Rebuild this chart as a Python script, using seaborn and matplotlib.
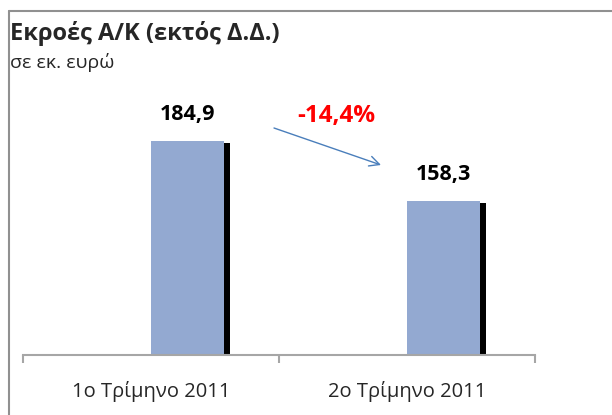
import matplotlib
matplotlib.use("Agg")
import matplotlib.pyplot as plt
import matplotlib.patheffects as pe
from matplotlib.lines import Line2D
import seaborn as sns
import pandas as pd
import numpy as np

categories = ["1ο Τρίμηνο 2011", "2ο Τρίμηνο 2011"]
values = [184.9, 158.3]
value_labels = ["184,9", "158,3"]
title = "Εκροές Α/Κ (εκτός Δ.Δ.)"
subtitle = "σε εκ. ευρώ"

sns.set_theme(style="white")
plt.rcParams['font.family'] = ['Open Sans', 'DejaVu Sans']

# Excel clustered layout: an empty first series, real second series
df = pd.DataFrame({
    "cat": categories * 2,
    "series": ["empty"] * 2 + ["flows"] * 2,
    "value": [np.nan, np.nan] + values,
})

fig = plt.figure(figsize=(6.12, 4.15), dpi=100)
ymin, ymax = 90, 200
ax = fig.add_axes([23/612, (415-355)/415, 512/612, (ymax - ymin) * 2.2556 / 415])

bar_color = "#93A9D1"
sns.barplot(data=df, x="cat", y="value", hue="series", hue_order=["empty", "flows"],
            order=categories, palette={"empty": bar_color, "flows": bar_color},
            width=0.57, dodge=True, legend=False, ax=ax, errorbar=None,
            linewidth=0, saturation=1)

for p in ax.patches:
    p.set_path_effects([pe.SimplePatchShadow(offset=(4.7, -1.7), shadow_rgbFace="black", alpha=1.0),
                        pe.Normal()])

ax.set_ylim(ymin, ymax)
ax.set_xlim(-0.5, 1.5)

# value labels
bars = [p for p in ax.patches if not np.isnan(p.get_height()) and p.get_height() > 0]
bars.sort(key=lambda p: p.get_x())
for p, lab in zip(bars, value_labels):
    ax.annotate(lab, (p.get_x() + p.get_width()/2, p.get_height()),
                xytext=(0, 19), textcoords="offset points", ha="center", va="center",
                fontsize=15.5, fontweight="bold", color="black", annotation_clip=False)

# change annotation
change = (values[1] / values[0] - 1) * 100
change_txt = f"{change:.1f}%".replace(".", ",")
fig.text(336.5/612, 1 - 116/415, change_txt, ha="center", va="center",
         fontsize=17.5, fontweight="bold", color="#FF0000")
fig.add_artist(plt.Annotation("", xy=(381/612, 1 - 165/415), xytext=(274/612, 1 - 128/415),
                              xycoords="figure fraction", textcoords="figure fraction",
                              arrowprops=dict(arrowstyle="->", color="#4A7EBB", lw=1,
                                              mutation_scale=18, shrinkA=0, shrinkB=0)))

# axes styling
for s in ["top", "right", "left"]:
    ax.spines[s].set_visible(False)
ax.spines["bottom"].set_color("#A6A6A6")
ax.spines["bottom"].set_linewidth(1.5)
ax.set_yticks([])
ax.set_xlabel("")
ax.set_ylabel("")
ax.set_xticks([0, 1])
ax.set_xticklabels(categories, fontsize=14.5)
ax.tick_params(axis="x", which="major", length=0, pad=19)
ax.set_xticks([-0.5, 0.5, 1.5], minor=True)
ax.tick_params(axis="x", which="minor", length=6, width=1.5, color="#A6A6A6", direction="out", bottom=True)

# title
fig.text(10/612, 1 - 34/415, title, ha="left", va="center", fontsize=17, fontweight="bold")
fig.text(10/612, 1 - 63/415, subtitle, ha="left", va="center", fontsize=14)

# frame lines
fig.add_artist(Line2D([9/612, 1], [1 - 11/415, 1 - 11/415], transform=fig.transFigure, color="#909090", lw=1.5))
fig.add_artist(Line2D([9/612, 9/612], [0, 1 - 11/415], transform=fig.transFigure, color="#909090", lw=1.5))

fig.savefig("out.png", dpi=100)
